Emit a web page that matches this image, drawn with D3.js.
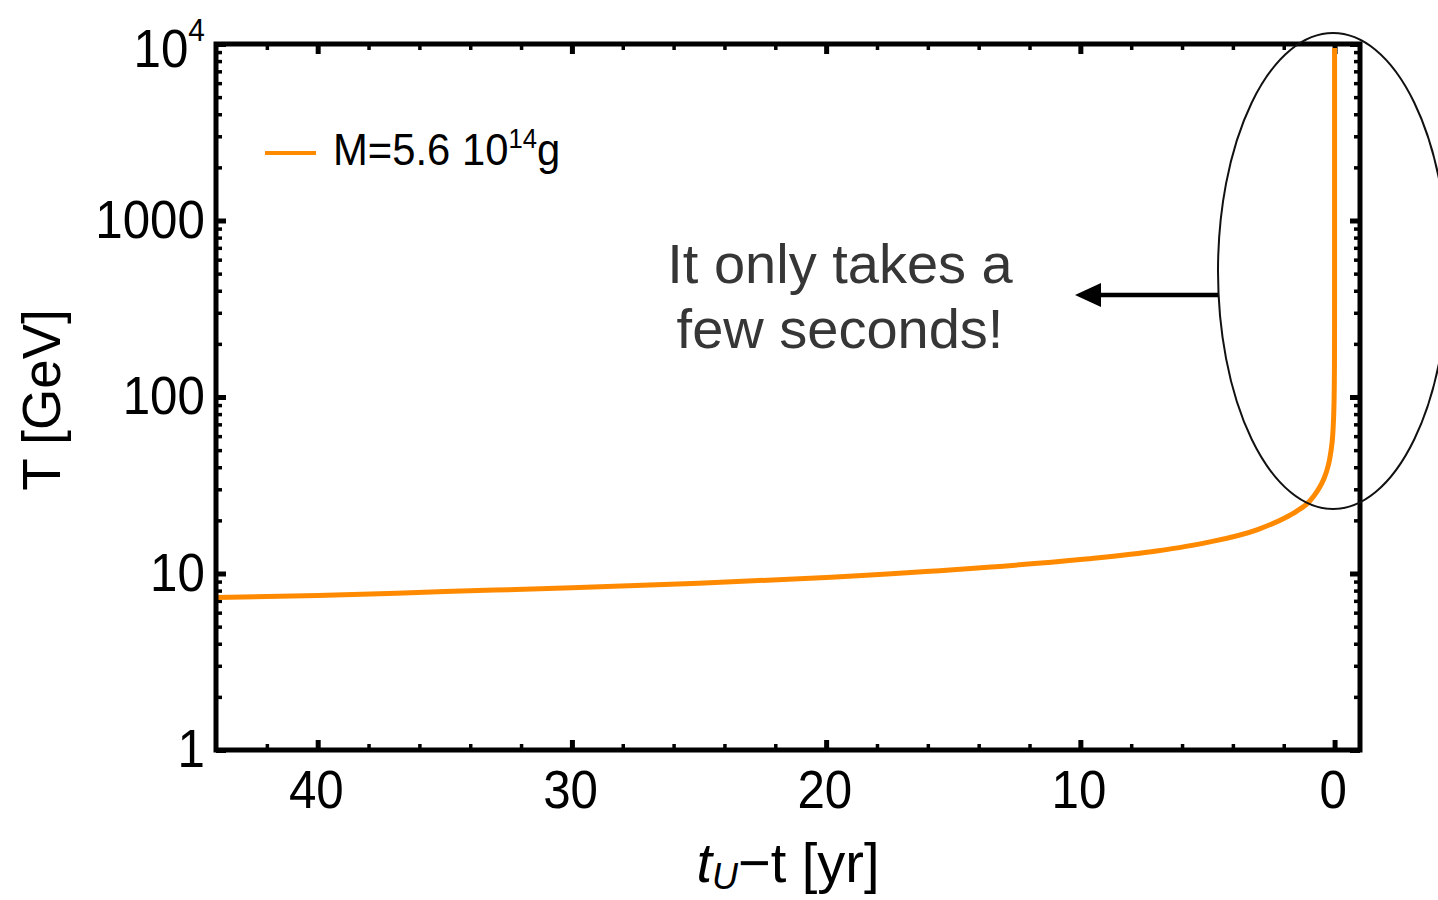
<!DOCTYPE html>
<html>
<head>
<meta charset="utf-8">
<script src="https://cdn.jsdelivr.net/npm/d3@7"></script>
<style>
  html, body { margin: 0; padding: 0; background: #fff; }
  svg { display: block; font-family: "Liberation Sans", Arial, Helvetica, sans-serif; }
</style>
</head>
<body>
<svg id="chart" width="1438" height="900"></svg>
<script>
// ---- data ----
const timeLeft = [44, 40, 35, 30, 25, 20, 15, 10, 7, 5, 3, 2, 1.5, 1, 0.7, 0.5, 0.4, 0.3, 0.2, 0.15, 0.1, 0.08, 0.05, 0.03, 0.02, 0.01, 0.005, 0.003, 0.001, 0.0003, 0.0001, 0.00001, 0.000001, 0.0000001, 0.00000001];
const temperature = [7.3, 7.5, 7.9, 8.3, 8.8, 9.5, 10.5, 12, 13.4, 15, 17.8, 20.5, 22.5, 25.5, 29, 32.5, 35, 38.5, 44, 48.5, 55, 59, 70, 83, 95, 120, 150, 180, 260, 390, 560, 1200, 2600, 5600, 9500];
const xTickValues = [0, 10, 20, 30, 40];
const xMinorTicks = [2, 4, 6, 8, 12, 14, 16, 18, 22, 24, 26, 28, 32, 34, 36, 38, 42];
const yTickValues = [1, 10, 100, 1000, 10000];
const yTickLabels = ["1", "10", "100", "1000", "10^4"];
const legendLabel = "M=5.6 10^14g";
const xTitle = "t_U−t [yr]";
const yTitle = "T [GeV]";
const noteLines = ["It only takes a", "few seconds!"];

// ---- layout ----
const svg = d3.select("#chart");
const L = 216, R = 1360, T = 44, B = 750;
const x = d3.scaleLinear().domain([44, -1]).range([L, R]);
const y = d3.scaleLog().domain([1, 10000]).range([B, T]);

const yMinor = [];
for (let d = 1; d < 10000; d *= 10) for (let k = 2; k <= 9; k++) yMinor.push(d * k);

const SQ = 0.93; // horizontal squish of the plot font
const FS = 53;

function styleTicks(g, w) {
  g.select(".domain").remove();
  g.selectAll(".tick line").attr("stroke", "#000").attr("stroke-width", w);
}

// bottom axis
const gB = svg.append("g").attr("transform", `translate(0,${B})`);
gB.call(d3.axisBottom(x).tickValues(xTickValues).tickSize(-10).tickPadding(20).tickFormat(d3.format("d")));
styleTicks(gB, 5);
gB.selectAll(".tick text").attr("font-size", FS).attr("fill", "#000")
  .attr("x", -2).attr("dy", "0.71em")
  .attr("transform", `scale(${SQ},1)`);
const gBm = svg.append("g").attr("transform", `translate(0,${B})`);
gBm.call(d3.axisBottom(x).tickValues(xMinorTicks).tickSize(-6).tickFormat(""));
styleTicks(gBm, 3.5);

// top axis
const gT = svg.append("g").attr("transform", `translate(0,${T})`);
gT.call(d3.axisTop(x).tickValues(xTickValues).tickSize(-10).tickFormat(""));
styleTicks(gT, 5);
const gTm = svg.append("g").attr("transform", `translate(0,${T})`);
gTm.call(d3.axisTop(x).tickValues(xMinorTicks).tickSize(-6).tickFormat(""));
styleTicks(gTm, 3.5);

// left axis
const gL = svg.append("g").attr("transform", `translate(${L},0)`);
gL.call(d3.axisLeft(y).tickValues(yTickValues).tickSize(-10).tickPadding(12)
  .tickFormat((d, i) => yTickLabels[i]));
styleTicks(gL, 5);
gL.selectAll(".tick text").attr("font-size", FS).attr("fill", "#000")
  .attr("transform", `scale(${SQ},1)`);
gL.selectAll(".tick text").filter(d => d === 10000).each(function() {
  const t = d3.select(this);
  const parts = yTickLabels[4].split("^");
  t.text(null).attr("dy", "0.42em");
  t.append("tspan").attr("font-size", 53).text(parts[0]);
  t.append("tspan").attr("font-size", 32).attr("dy", "-0.8em").text(parts[1]);
});
const gLm = svg.append("g").attr("transform", `translate(${L},0)`);
gLm.call(d3.axisLeft(y).tickValues(yMinor).tickSize(-6).tickFormat(""));
styleTicks(gLm, 3.5);

// right axis
const gR = svg.append("g").attr("transform", `translate(${R},0)`);
gR.call(d3.axisRight(y).tickValues(yTickValues).tickSize(-10).tickFormat(""));
styleTicks(gR, 5);
const gRm = svg.append("g").attr("transform", `translate(${R},0)`);
gRm.call(d3.axisRight(y).tickValues(yMinor).tickSize(-6).tickFormat(""));
styleTicks(gRm, 3.5);

// curve
const data = timeLeft.map((t, i) => ({ t, T: temperature[i] }));
const line = d3.line().x(d => x(d.t)).y(d => y(d.T)).curve(d3.curveMonotoneX);
svg.append("path").datum(data).attr("d", line)
  .attr("fill", "none").attr("stroke", "#ff8a00").attr("stroke-width", 5)
  .attr("stroke-linejoin", "round");

// frame
svg.append("rect").attr("x", L).attr("y", T).attr("width", R - L).attr("height", B - T)
  .attr("fill", "none").attr("stroke", "#000").attr("stroke-width", 5);

// legend
const lg = svg.append("g");
lg.append("line").attr("x1", 265).attr("x2", 316).attr("y1", 153).attr("y2", 153)
  .attr("stroke", "#ff8a00").attr("stroke-width", 4);
const lparts = legendLabel.split("^");
const ltxt = lg.append("text").attr("transform", `translate(333,165) scale(0.95,1)`)
  .attr("font-size", 44).attr("fill", "#000");
ltxt.append("tspan").text(lparts[0]);
ltxt.append("tspan").attr("font-size", 27).attr("dy", -17).text(lparts[1].slice(0, 2));
ltxt.append("tspan").attr("dy", 17).text(lparts[1].slice(2));

// axis titles
const xt = svg.append("text").attr("transform", `translate(788,882)`)
  .attr("text-anchor", "middle").attr("font-size", 56).attr("fill", "#000");
const xp = xTitle.split("_");
xt.append("tspan").attr("font-style", "italic").text(xp[0]);
xt.append("tspan").attr("font-style", "italic").attr("font-size", 36).attr("dy", 7).text(xp[1][0]);
xt.append("tspan").attr("dy", -7).text(xp[1].slice(1));

svg.append("text").attr("transform", `translate(60,400) rotate(-90)`)
  .attr("text-anchor", "middle").attr("font-size", 53).attr("fill", "#000")
  .text(yTitle);

// annotation
const note = svg.append("text").attr("text-anchor", "middle").attr("fill", "#363636")
  .attr("font-size", 56);
note.append("tspan").attr("x", 840).attr("y", 283).text(noteLines[0]);
note.append("tspan").attr("x", 840).attr("y", 348).text(noteLines[1]);

svg.append("ellipse").attr("cx", 1333).attr("cy", 271).attr("rx", 115).attr("ry", 238)
  .attr("fill", "none").attr("stroke", "#111").attr("stroke-width", 2);

svg.append("line").attr("x1", 1218).attr("x2", 1096).attr("y1", 295).attr("y2", 295)
  .attr("stroke", "#000").attr("stroke-width", 4.5);
svg.append("path").attr("d", d3.line()([[1075, 295], [1101, 283], [1101, 307]]) + "Z")
  .attr("fill", "#000");
</script>
</body>
</html>
